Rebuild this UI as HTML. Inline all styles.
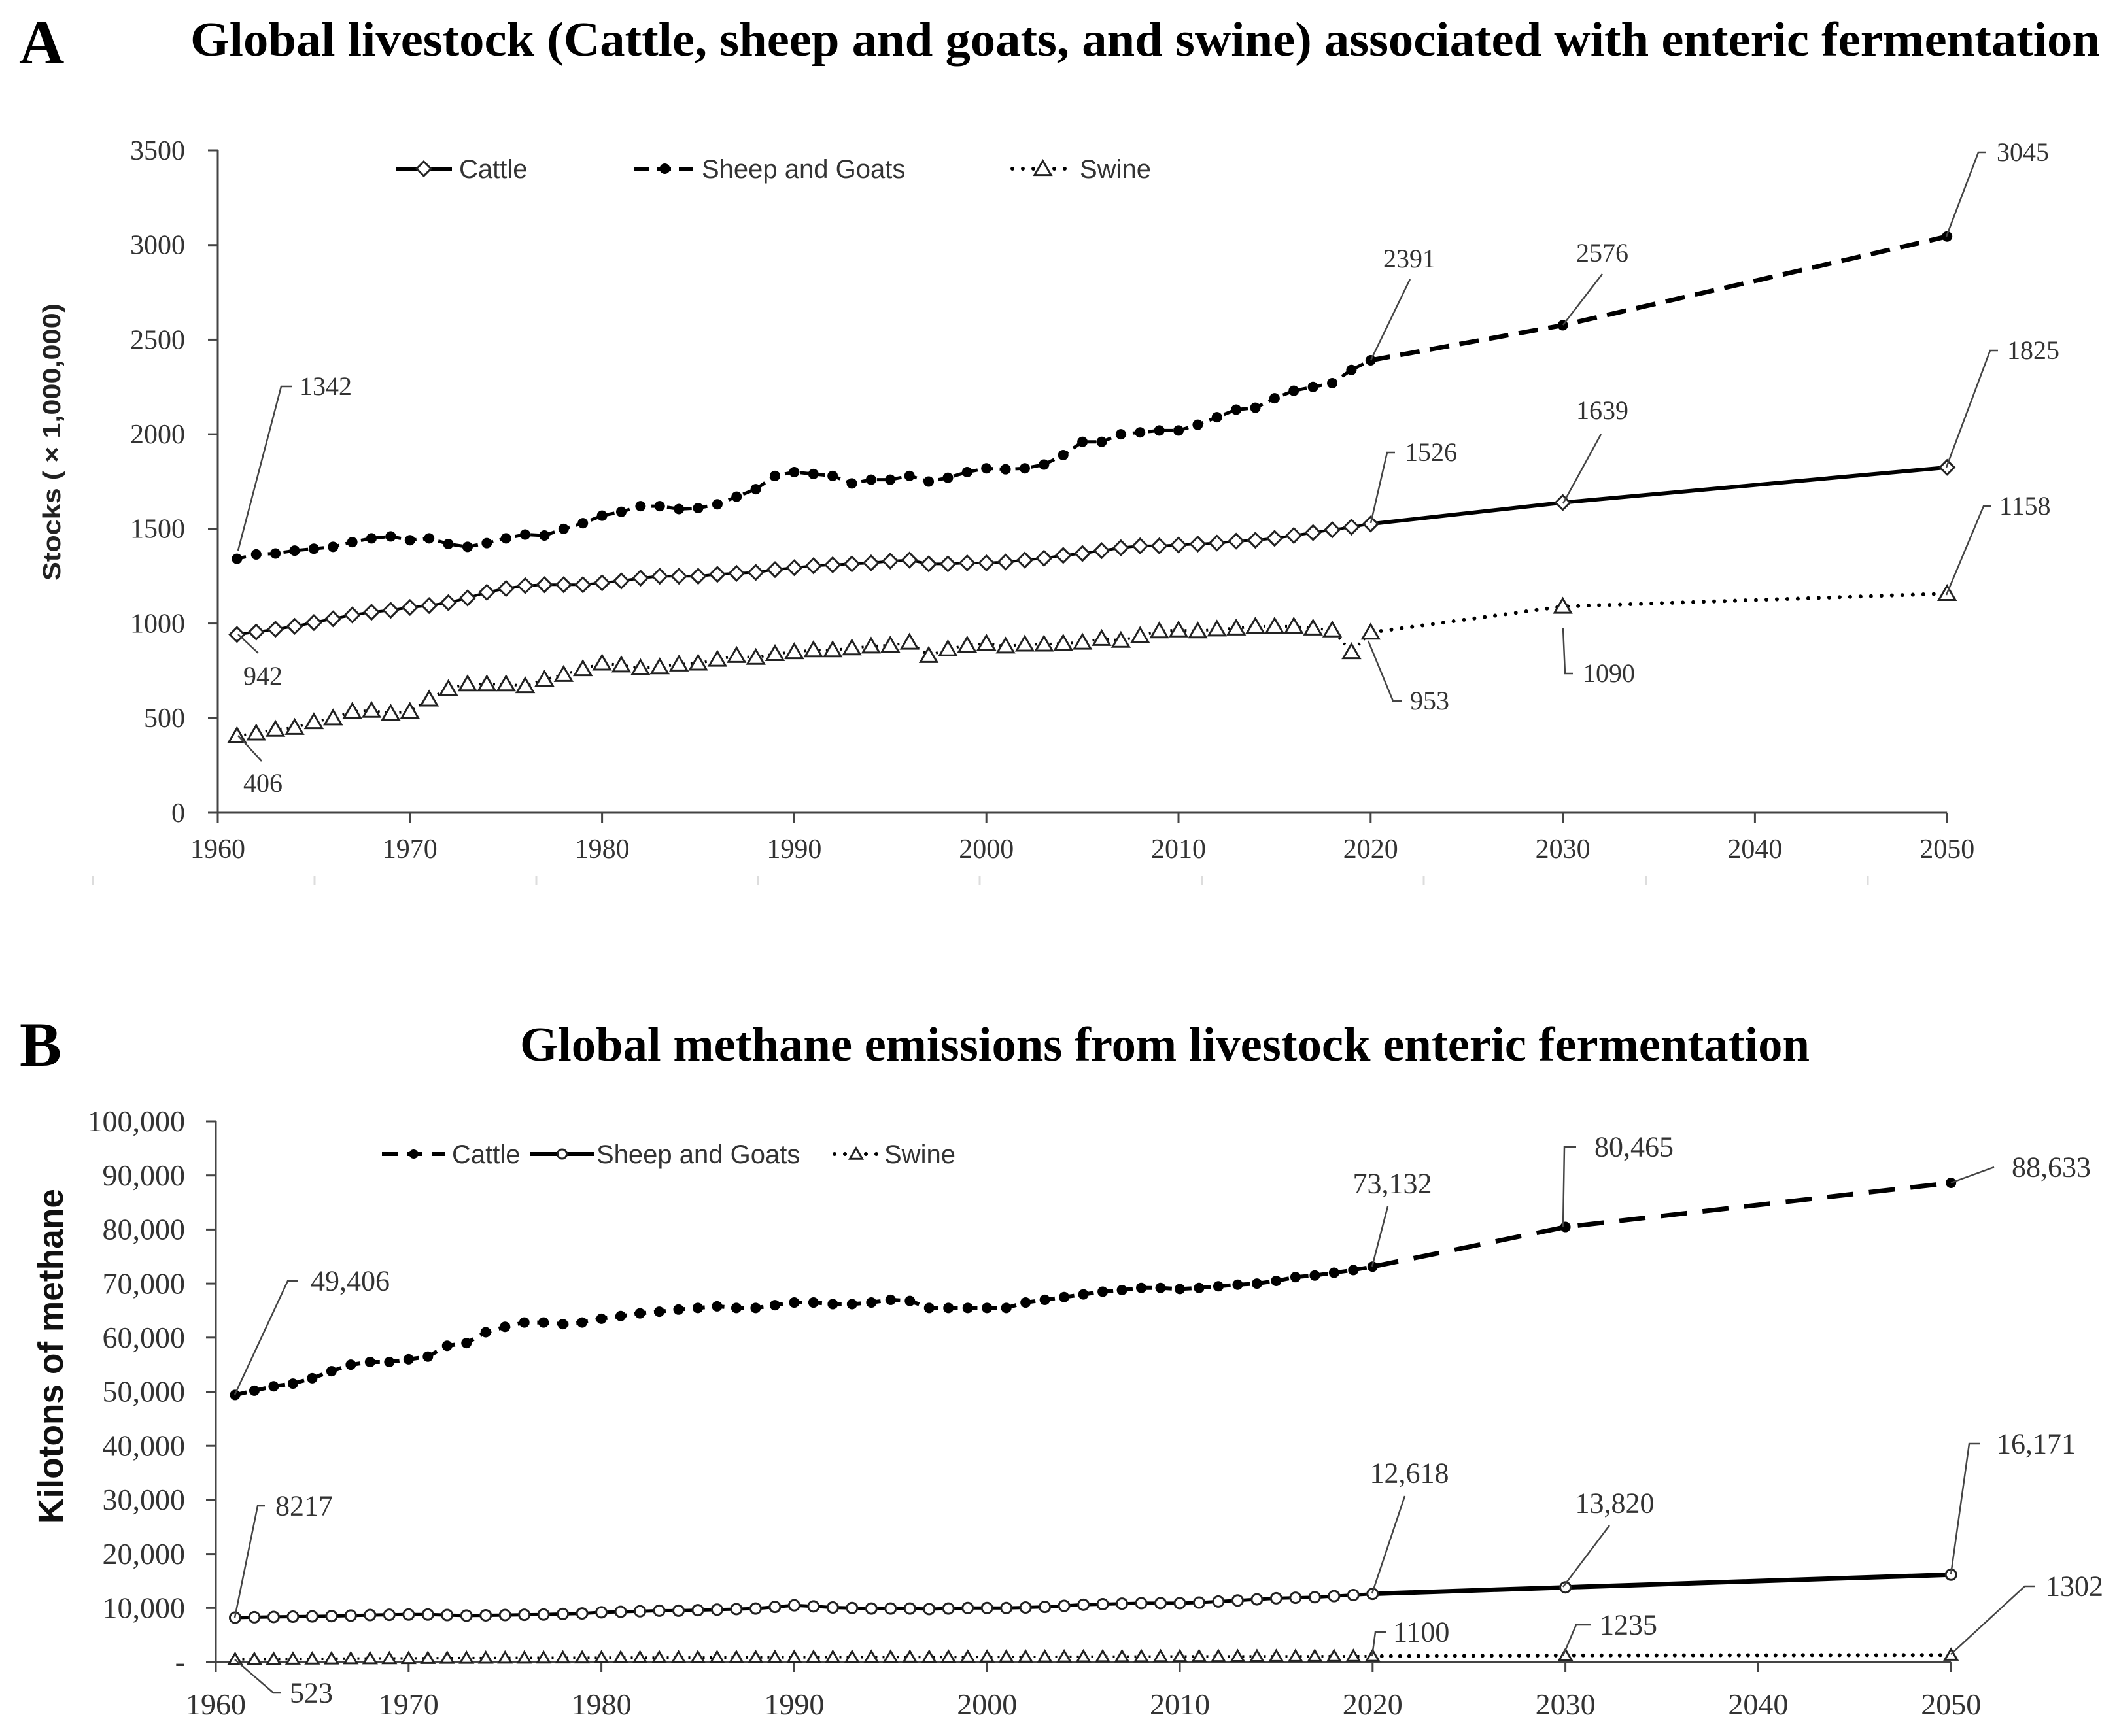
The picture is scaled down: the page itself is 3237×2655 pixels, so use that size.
<!DOCTYPE html>
<html><head><meta charset="utf-8">
<style>
html,body{margin:0;padding:0;background:#fff;}
svg{display:block;}
.ser{font-family:"Liberation Serif",serif;}
.san{font-family:"Liberation Sans",sans-serif;}
</style></head>
<body>
<svg id="fig" width="3237" height="2655" viewBox="0 0 3237 2655" xmlns="http://www.w3.org/2000/svg">
<rect width="3237" height="2655" fill="#fff"/>
<text x="29" y="97" class="ser" font-size="96" font-weight="bold">A</text>
<text x="291" y="85" class="ser" font-size="74" font-weight="bold" textLength="2920" lengthAdjust="spacingAndGlyphs">Global livestock (Cattle, sheep and goats, and swine) associated with enteric fermentation</text>
<text x="30" y="1630" class="ser" font-size="96" font-weight="bold">B</text>
<text x="795" y="1622" class="ser" font-size="74" font-weight="bold" textLength="1972" lengthAdjust="spacingAndGlyphs">Global methane emissions from livestock enteric fermentation</text>
<g id="A"></g>
<g id="B"></g>
</svg>
<script>
// ---------- Chart A data ----------
const yearsHist = [1961,1962,1963,1964,1965,1966,1967,1968,1969,1970,1971,1972,1973,1974,1975,1976,1977,1978,1979,1980,1981,1982,1983,1984,1985,1986,1987,1988,1989,1990,1991,1992,1993,1994,1995,1996,1997,1998,1999,2000,2001,2002,2003,2004,2005,2006,2007,2008,2009,2010,2011,2012,2013,2014,2015,2016,2017,2018,2019,2020];
const yearsProj = [2020,2030,2050];
const aSheep = [1342,1365,1370,1385,1395,1405,1430,1450,1460,1440,1450,1420,1405,1425,1450,1470,1465,1500,1530,1570,1590,1620,1620,1605,1610,1630,1670,1710,1780,1800,1790,1780,1740,1760,1760,1780,1750,1770,1800,1820,1815,1820,1840,1890,1960,1960,2000,2010,2020,2020,2050,2090,2130,2140,2190,2230,2250,2270,2340,2391];
const aSheepProj = [2391,2576,3045];
const aCattle = [942,955,970,985,1005,1025,1045,1060,1070,1085,1095,1110,1135,1165,1185,1200,1205,1205,1205,1215,1225,1240,1250,1250,1250,1260,1265,1270,1285,1295,1305,1310,1315,1320,1330,1335,1315,1315,1320,1320,1325,1335,1345,1360,1370,1385,1400,1410,1410,1415,1420,1425,1435,1440,1450,1465,1480,1495,1510,1526];
const aCattleProj = [1526,1639,1825];
const aSwine = [406,420,440,450,480,500,535,540,525,535,600,655,680,680,680,670,705,730,760,790,780,765,770,785,790,810,830,820,840,850,860,860,870,880,885,900,830,865,885,895,880,890,890,895,900,920,910,935,960,965,960,970,975,985,985,985,975,965,850,953];
const aSwineProj = [953,1090,1158];
const aYTicks = [0,500,1000,1500,2000,2500,3000,3500];
const aXTicks = [1960,1970,1980,1990,2000,2010,2020,2030,2040,2050];
// ---------- Chart B data ----------
const bCattle = [49406,50200,51000,51500,52500,53800,55000,55500,55500,56000,56500,58500,59000,61000,62000,62800,62800,62500,62800,63500,64000,64500,64800,65200,65500,65800,65500,65500,66000,66500,66500,66200,66200,66500,67000,66800,65500,65500,65500,65500,65500,66500,67000,67500,68000,68500,68800,69200,69200,69000,69200,69500,69800,70000,70500,71200,71500,72000,72500,73132];
const bCattleProj = [73132,80465,88633];
const bSheep = [8217,8300,8350,8400,8450,8500,8600,8700,8750,8800,8800,8700,8600,8650,8700,8750,8800,8900,9000,9200,9300,9400,9500,9500,9600,9700,9800,9900,10200,10500,10300,10100,10000,9900,9900,9900,9800,9900,10000,10000,10000,10100,10200,10400,10600,10700,10800,10900,10900,10900,11000,11200,11400,11600,11800,11900,12000,12200,12400,12618];
const bSheepProj = [12618,13820,16171];
const bSwine = [523,540,560,580,600,620,640,650,660,670,700,730,740,750,760,770,780,790,800,810,815,820,825,830,840,850,860,870,880,890,900,905,910,920,930,940,930,935,945,955,960,965,970,980,990,1000,1005,1010,1020,1030,1035,1040,1045,1050,1060,1065,1070,1075,1080,1100];
const bSwineProj = [1100,1235,1302];
const bYTicks = [0,10000,20000,30000,40000,50000,60000,70000,80000,90000,100000];
const bYLabels = ["-","10,000","20,000","30,000","40,000","50,000","60,000","70,000","80,000","90,000","100,000"];
const bXTicks = [1960,1970,1980,1990,2000,2010,2020,2030,2040,2050];

const NS="http://www.w3.org/2000/svg";
function mk(parent,tag,attrs,text){const e=document.createElementNS(NS,tag);for(const k in attrs)e.setAttribute(k,attrs[k]);if(text!==undefined)e.textContent=text;parent.appendChild(e);return e;}

const axA={x0:333,y0:1243,xs:29.38,ys:1013/3500};
const axB={x0:330,y0:2542,xs:29.48,ys:827/100000};
function X(ax,yr){return ax.x0+(yr-1960)*ax.xs;}
function Y(ax,v){return ax.y0-v*ax.ys;}

function drawMarker(g,type,x,y,s){
  let m;
  if(type==='diamond'){m=mk(g,'path',{d:`M${x-s} ${y} L${x} ${y-s} L${x+s} ${y} L${x} ${y+s} Z`,fill:'#fff',stroke:'#222','stroke-width':3});}
  else if(type==='circle'){m=mk(g,'circle',{cx:x,cy:y,r:s,fill:'#000'});}
  else if(type==='ocircle'){m=mk(g,'circle',{cx:x,cy:y,r:s,fill:'#fff',stroke:'#222','stroke-width':3});}
  else {m=mk(g,'path',{d:`M${x} ${y-s} L${x+s*1.05} ${y+s*0.8} L${x-s*1.05} ${y+s*0.8} Z`,fill:'#fff',stroke:'#222','stroke-width':3});}
  
  
}
function series(root,ax,name,years,vals,pyears,pvals,histStyle,projStyle,marker,ms){
  const g=mk(root,'g',{});
  
  
  const ph=years.map((yr,i)=>`${i?'L':'M'}${X(ax,yr).toFixed(1)} ${Y(ax,vals[i]).toFixed(1)}`).join(' ');
  const l1=mk(g,'path',Object.assign({d:ph,fill:'none',stroke:'#000'},histStyle));
  
  
  const pp=pyears.map((yr,i)=>`${i?'L':'M'}${X(ax,yr).toFixed(1)} ${Y(ax,pvals[i]).toFixed(1)}`).join(' ');
  const l2=mk(g,'path',Object.assign({d:pp,fill:'none',stroke:'#000'},projStyle));
  
  
  years.forEach((yr,i)=>drawMarker(g,marker,X(ax,yr),Y(ax,vals[i]),ms));
  pyears.forEach((yr,i)=>{if(i>0)drawMarker(g,marker,X(ax,yr),Y(ax,pvals[i]),ms);});
}
function axes(root,ax,yt,ylab,xt,fs,xlabY,name){
  const g=mk(root,'g',{});
  
  
  const xEnd=X(ax,2050), yTop=Y(ax,yt[yt.length-1]);
  mk(g,'line',{x1:ax.x0,y1:yTop,x2:ax.x0,y2:ax.y0,stroke:'#444','stroke-width':3});
  mk(g,'line',{x1:ax.x0,y1:ax.y0,x2:xEnd,y2:ax.y0,stroke:'#444','stroke-width':3});
  yt.forEach((v,i)=>{const y=Y(ax,v);
    mk(g,'line',{x1:ax.x0-15,y1:y,x2:ax.x0,y2:y,stroke:'#444','stroke-width':3});
    const t=mk(g,'text',{x:283,y:y+fs*0.33,'text-anchor':'end','font-size':fs,fill:'#333',class:'ser'},ylab[i]);
    
    });
  xt.forEach(yr=>{const x=X(ax,yr);
    mk(g,'line',{x1:x,y1:ax.y0,x2:x,y2:ax.y0+15,stroke:'#444','stroke-width':3});
    const t=mk(g,'text',{x:x,y:xlabY,'text-anchor':'middle','font-size':fs,fill:'#333',class:'ser'},yr);
    
    });
}
function note(root,pts,tx,ty,anchor,label,fs){
  const g=mk(root,'g',{});
  
  
  mk(g,'polyline',{points:pts.map(p=>p.join(',')).join(' '),fill:'none',stroke:'#444','stroke-width':2.5});
  mk(g,'text',{x:tx,y:ty+fs*0.33,'text-anchor':anchor,'font-size':fs,fill:'#333',class:'ser'},label);
}
function legend(root,items,y,fs){
  items.forEach(it=>{
    const g=mk(root,'g',{});
    
    
    mk(g,'line',Object.assign({x1:it.x1,y1:y,x2:it.x2,y2:y,stroke:'#000'},it.st));
    drawMarker(g,it.m,(it.x1+it.x2)/2,y,it.ms);
    mk(g,'text',{x:it.tx,y:y+fs*0.35,'font-size':fs,fill:'#333',class:'san'},it.label);
  });
}

// ---------- Draw A ----------
const A=document.getElementById('A');
[142,481,820,1159,1498,1838,2177,2517,2856].forEach(x=>mk(A,'line',{x1:x,y1:1340,x2:x,y2:1354,stroke:'#ddd','stroke-width':3}));
axes(A,axA,aYTicks,aYTicks.map(String),aXTicks,42,1312,'chart-a-axes');
const ya=mk(A,'text',{x:0,y:0,transform:'translate(92,676) rotate(-90)','text-anchor':'middle','font-size':38,'font-weight':'bold',fill:'#222',class:'san',textLength:424,lengthAdjust:'spacingAndGlyphs'},'Stocks ( × 1,000,000)');


series(A,axA,'sheep-goats-series',yearsHist,aSheep,yearsProj,aSheepProj,{'stroke-width':5,'stroke-dasharray':'14 10'},{'stroke-width':7,'stroke-dasharray':'30 16'},'circle',8);
series(A,axA,'cattle-series',yearsHist,aCattle,yearsProj,aCattleProj,{'stroke-width':4},{'stroke-width':6},'diamond',11);
series(A,axA,'swine-series',yearsHist,aSwine,yearsProj,aSwineProj,{'stroke-width':4,'stroke-dasharray':'3 8'},{'stroke-width':6,'stroke-dasharray':'0 16','stroke-linecap':'round'},'triangle',12);
legend(A,[
 {x1:605,x2:691,m:'diamond',ms:11,st:{'stroke-width':6},tx:702,label:'Cattle'},
 {x1:970,x2:1063,m:'circle',ms:8,st:{'stroke-width':6,'stroke-dasharray':'22 12'},tx:1073,label:'Sheep and Goats'},
 {x1:1548,x2:1641,m:'triangle',ms:12,st:{'stroke-width':6,'stroke-dasharray':'0 16','stroke-linecap':'round'},tx:1651,label:'Swine'}],258,40);
const fA=40;
note(A,[[364,842],[430,591],[446,591]],458,591,'start','1342',fA);
note(A,[[364,970],[395,999]],372,1034,'start','942',fA);
note(A,[[364,1125],[400,1164]],372,1198,'start','406',fA);
note(A,[[2096,551],[2156,427]],2155,396,'middle','2391',fA);
note(A,[[2390,497],[2450,419]],2450,387,'middle','2576',fA);
note(A,[[2976,362],[3025,233],[3037,233]],3053,233,'start','3045',fA);
note(A,[[2096,800],[2121,692],[2133,692]],2148,692,'start','1526',fA);
note(A,[[2390,770],[2448,664]],2450,628,'middle','1639',fA);
note(A,[[2976,715],[3043,536],[3055,536]],3069,536,'start','1825',fA);
note(A,[[2976,910],[3033,774],[3045,774]],3057,774,'start','1158',fA);
note(A,[[2092,980],[2130,1072],[2143,1072]],2156,1072,'start','953',fA);
note(A,[[2390,960],[2393,1030],[2405,1030]],2420,1030,'start','1090',fA);

// ---------- Draw B ----------
const B=document.getElementById('B');
axes(B,axB,bYTicks,bYLabels,bXTicks,46,2622,'chart-b-axes');
const yb=mk(B,'text',{x:0,y:0,transform:'translate(96,2074) rotate(-90)','text-anchor':'middle','font-size':54,'font-weight':'bold',fill:'#111',class:'san',textLength:512,lengthAdjust:'spacingAndGlyphs'},'Kilotons of methane');


series(B,axB,'cattle-series',yearsHist,bCattle,yearsProj,bCattleProj,{'stroke-width':6,'stroke-dasharray':'18 12'},{'stroke-width':7,'stroke-dasharray':'40 24'},'circle',8);
series(B,axB,'sheep-goats-series',yearsHist,bSheep,yearsProj,bSheepProj,{'stroke-width':5},{'stroke-width':7},'ocircle',8);
series(B,axB,'swine-series',yearsHist,bSwine,yearsProj,bSwineProj,{'stroke-width':4,'stroke-dasharray':'3 8'},{'stroke-width':6,'stroke-dasharray':'0 14','stroke-linecap':'round'},'triangle',9);
legend(B,[
 {x1:584,x2:681,m:'circle',ms:7,st:{'stroke-width':6,'stroke-dasharray':'24 14'},tx:691,label:'Cattle'},
 {x1:811,x2:908,m:'ocircle',ms:7,st:{'stroke-width':6},tx:912,label:'Sheep and Goats'},
 {x1:1276,x2:1342,m:'triangle',ms:9,st:{'stroke-width':6,'stroke-dasharray':'0 16','stroke-linecap':'round'},tx:1352,label:'Swine'}],1765,40);
const fB=44;
note(B,[[359,2133],[440,1959],[455,1959]],475,1959,'start','49,406',fB);
note(B,[[359,2474],[394,2303],[405,2303]],421,2303,'start','8217',fB);
note(B,[[359,2538],[418,2589],[430,2589]],443,2589,'start','523',fB);
note(B,[[2098,1937],[2122,1845]],2129,1810,'middle','73,132',fB);
note(B,[[2390,1877],[2392,1754],[2410,1754]],2438,1754,'start','80,465',fB);
note(B,[[2983,1809],[3049,1785]],3076,1785,'start','88,633',fB);
note(B,[[2983,2408],[3011,2208],[3027,2208]],3053,2208,'start','16,171',fB);
note(B,[[2098,2437],[2148,2288]],2155,2253,'middle','12,618',fB);
note(B,[[2390,2427],[2461,2333]],2469,2299,'middle','13,820',fB);
note(B,[[2983,2530],[3096,2426],[3112,2426]],3128,2426,'start','1302',fB);
note(B,[[2098,2533],[2103,2496],[2120,2496]],2130,2496,'start','1100',fB);
note(B,[[2390,2532],[2410,2485],[2432,2485]],2446,2485,'start','1235',fB);
</script>
</body></html>
